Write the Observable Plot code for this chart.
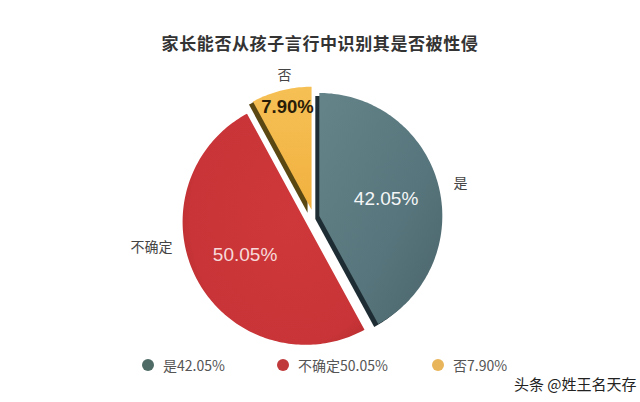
<!DOCTYPE html>
<html>
<head>
<meta charset="utf-8">
<script src="https://cdn.jsdelivr.net/npm/d3@7"></script>
<script src="https://cdn.jsdelivr.net/npm/@observablehq/plot@0.6"></script>
<style>
  html, body { margin: 0; padding: 0; background: #fff; }
  body { width: 640px; height: 402px; overflow: hidden; position: relative;
         font-family: "Noto Sans CJK SC", "Noto Sans", sans-serif; }
  #chart { position: absolute; left: 0; top: 0; }
  #title { position: absolute; top: 30px; left: 0; width: 640px; text-align: center;
           font-size: 17px; font-weight: bold; color: #333; letter-spacing: 0.6px; }
  .leg { position: absolute; top: 355px; font-size: 14px; color: #555; white-space: nowrap;
         display: flex; align-items: center; line-height: 20px; }
  .leg i { display: inline-block; width: 12px; height: 12px; border-radius: 50%; margin-right: 9px; }
  #wm { position: absolute; left: 514px; top: 373px; font-size: 15px; color: #222;
        text-shadow: 0 0 2px #fff; white-space: nowrap; }
</style>
</head>
<body>
<div id="chart"></div>
<div id="title">家长能否从孩子言行中识别其是否被性侵</div>
<div id="legend"></div>
<div id="wm">头条 @姓王名天存</div>
<script>
// ---- data ----
const categories = ["是", "不确定", "否"];
const values = [42.05, 50.05, 7.90];
const valueLabels = ["42.05%", "50.05%", "7.90%"];
const legendLabels = ["是42.05%", "不确定50.05%", "否7.90%"];

// ---- style / layout constants ----
const fills = ["url(#gGrey)", "url(#gRed)", "url(#gYellow)"];
const sideColors = ["#1e2d33", "none", "#5a4712"];
const legendColors = ["#4f6b66", "#c0393b", "#e9b55a"];
const pctColors = ["#f4f6f7", "#f7dada", "#2a1d08"];
const pctWeights = ["normal", "normal", "bold"];
const pctSizes = [19, 19, 18.5];
const legendLeft = [142, 277, 432];
const cx = 313, cy = 217, R = 123, explode = [6, 9, 8];
// category label offsets from the pie centre
const catLabelPos = [[+140, -34, "start"], [-141, +30, "end"], [-29, -142, "middle"]];

const arcs = d3.pie().sort(null).value(d => d)(values);

// polygon points of each slice, from the data-driven angles
const pts = [];
const meta = [];
arcs.forEach((a, i) => {
  const mid = (a.startAngle + a.endAngle) / 2;
  const ox = cx + explode[i] * Math.sin(mid), oy = cy - explode[i] * Math.cos(mid);
  const n = Math.max(8, Math.ceil((a.endAngle - a.startAngle) / 0.02));
  pts.push({k: i, x: ox, y: oy});
  for (let j = 0; j <= n; j++) {
    const t = a.startAngle + (a.endAngle - a.startAngle) * j / n;
    pts.push({k: i, x: ox + R * Math.sin(t), y: oy - R * Math.cos(t)});
  }
  pts.push({k: i, x: ox, y: oy});
  const share = a.endAngle - a.startAngle;
  const rf = share < 1 ? 0.86 : 0.56;
  meta.push({
    k: i,
    cat: categories[i],
    pct: valueLabels[i],
    px: ox + R * rf * Math.sin(mid) + (share < 1 ? 2 : 0),
    py: oy - R * rf * Math.cos(mid),
    lx: cx + catLabelPos[i][0],
    ly: cy + catLabelPos[i][1],
    anchor: catLabelPos[i][2]
  });
});

const marks = [];
// 3D side (darker copies underneath)
for (let i = 0; i < values.length; i++) {
  if (sideColors[i] === "none") continue;
  marks.push(Plot.line(pts.filter(d => d.k === i), {x: "x", y: "y", fill: sideColors[i], stroke: "none", dx: -4, dy: 3}));
}
for (let i = 0; i < values.length; i++) {
  marks.push(Plot.line(pts.filter(d => d.k === i), {x: "x", y: "y", fill: fills[i], stroke: "none"}));
}
// percent labels
for (let i = 0; i < values.length; i++) {
  marks.push(Plot.text([meta[i]], {x: "px", y: "py", text: "pct", fill: pctColors[i],
    fontSize: pctSizes[i], fontWeight: pctWeights[i], fontFamily: "Liberation Sans, Arial, sans-serif"}));
}
// category labels
for (let i = 0; i < values.length; i++) {
  marks.push(Plot.text([meta[i]], {x: "lx", y: "ly", text: "cat", textAnchor: meta[i].anchor,
    fill: "#444", fontSize: 14, fontFamily: "Noto Sans CJK SC, sans-serif"}));
}

const svg = Plot.plot({
  width: 640, height: 402,
  margin: 0,
  x: {domain: [0, 640], range: [0, 640], axis: null},
  y: {domain: [0, 402], range: [0, 402], axis: null},
  style: {background: "transparent", overflow: "visible"},
  marks
});

const defs = d3.select(svg).insert("defs", ":first-child");
const g1 = defs.append("linearGradient").attr("id", "gGrey").attr("x1", 0).attr("y1", 0).attr("x2", 1).attr("y2", 1);
g1.append("stop").attr("offset", "0%").attr("stop-color", "#648489");
g1.append("stop").attr("offset", "60%").attr("stop-color", "#57757c");
g1.append("stop").attr("offset", "100%").attr("stop-color", "#4b656b");
const g2 = defs.append("radialGradient").attr("id", "gRed").attr("cx", 0.6).attr("cy", 0.45).attr("r", 0.7);
g2.append("stop").attr("offset", "0%").attr("stop-color", "#cf383b");
g2.append("stop").attr("offset", "80%").attr("stop-color", "#c83437");
g2.append("stop").attr("offset", "100%").attr("stop-color", "#b12b2f");
const g3 = defs.append("linearGradient").attr("id", "gYellow").attr("x1", 0).attr("y1", 0).attr("x2", 0).attr("y2", 1);
g3.append("stop").attr("offset", "0%").attr("stop-color", "#f6c055");
g3.append("stop").attr("offset", "100%").attr("stop-color", "#f1b13f");

document.getElementById("chart").appendChild(svg);

const leg = document.getElementById("legend");
legendLabels.forEach((t, i) => {
  const d = document.createElement("div");
  d.className = "leg";
  d.style.left = legendLeft[i] + "px";
  d.innerHTML = `<i style="background:${legendColors[i]}"></i><span></span>`;
  d.querySelector("span").textContent = t;
  leg.appendChild(d);
});
</script>
</body>
</html>
